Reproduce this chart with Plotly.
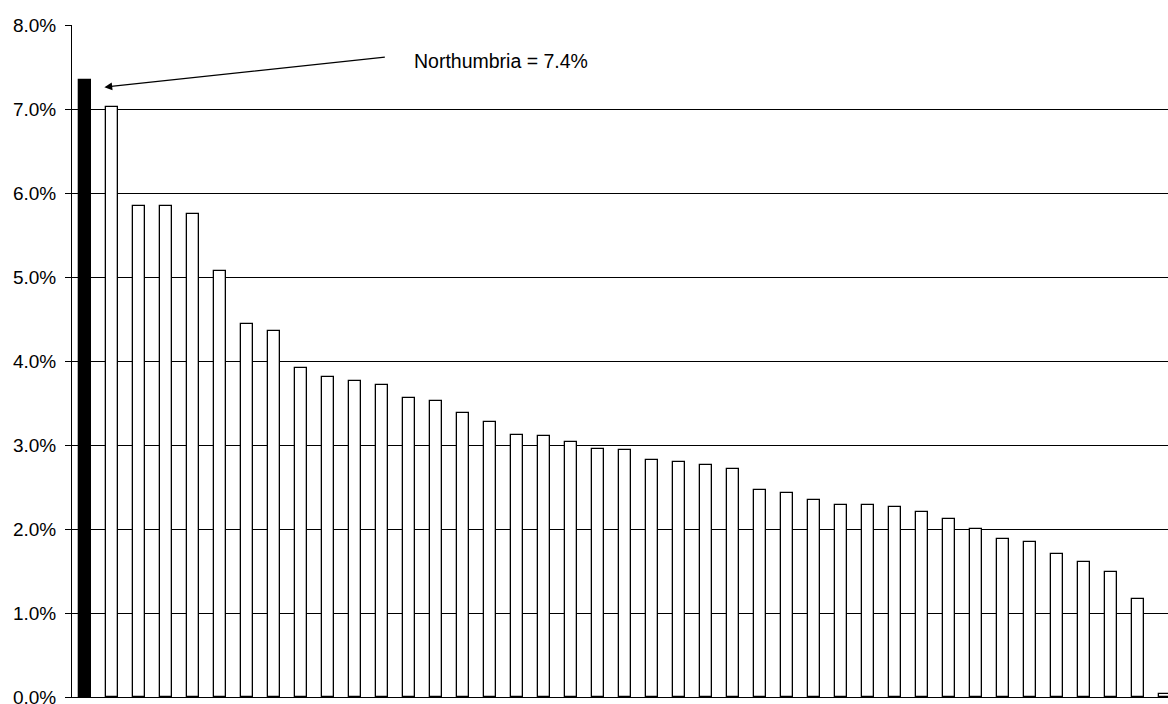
import plotly.graph_objects as go

# Share values (fraction) per area, sorted descending; first is Northumbria
areas = [f"Area {i+1}" for i in range(41)]
areas[0] = "Northumbria"
values = [0.0735, 0.0702, 0.0585, 0.0584, 0.05745, 0.0507, 0.0444, 0.0436,
          0.0392, 0.03805, 0.03765, 0.0371, 0.03555, 0.0352, 0.0338, 0.0327,
          0.0312, 0.03107, 0.0303, 0.0295, 0.0294, 0.0282, 0.0280, 0.02765,
          0.0272, 0.0246, 0.0243, 0.0234, 0.0228, 0.0228, 0.02265, 0.02205,
          0.02115, 0.01995, 0.01876, 0.01845, 0.01706, 0.0161, 0.0149,
          0.01167, 0.0003]
highlight = "Northumbria"
annotation_text = "Northumbria = 7.4%"

x_idx = list(range(len(values)))
fills = ["#000000" if a == highlight else "#ffffff" for a in areas]

fig = go.Figure()
fig.add_trace(go.Bar(
    x=x_idx, y=values, width=0.445,
    marker=dict(color=fills, line=dict(color="#000000", width=1.3)),
    hovertext=areas, showlegend=False, cliponaxis=True,
))

fig.add_annotation(
    x=0.70, y=0.0726, xref="x", yref="y",
    ax=11.15, ay=0.0762, axref="x", ayref="y",
    text="", showarrow=True, arrowhead=2, arrowsize=1.3, arrowwidth=1.2,
    arrowcolor="#000000",
)
fig.add_annotation(
    x=12.1, y=0.0757, xref="x", yref="y",
    text=annotation_text, showarrow=False, xanchor="left", yanchor="middle",
    font=dict(family="Liberation Sans, Arial", size=19.5, color="#000000"),
)

fig.update_layout(
    width=1168, height=704,
    margin=dict(l=72, r=0, t=25, b=7, autoexpand=False),
    paper_bgcolor="#ffffff", plot_bgcolor="#ffffff",
    font=dict(family="Liberation Sans, Arial", size=19, color="#000000"),
    bargap=0,
)
fig.update_xaxes(
    range=[-0.5, 40.12], showticklabels=False, showgrid=False,
    zeroline=False, showline=True, linecolor="#000000", linewidth=1,
    ticks="", automargin=False,
)
fig.update_yaxes(
    range=[0, 0.08], dtick=0.01, tickformat=".1%",
    showgrid=True, gridcolor="#000000", gridwidth=1,
    showline=True, linecolor="#000000", linewidth=1,
    ticks="outside", ticklen=6, tickcolor="#000000", tickwidth=1,
    zeroline=False, ticklabelstandoff=5, ticklabeloverflow="allow",
    automargin=False,
)

fig.write_html("out.html", config={"displayModeBar": False},
               post_script="document.body.style.margin='0';")
